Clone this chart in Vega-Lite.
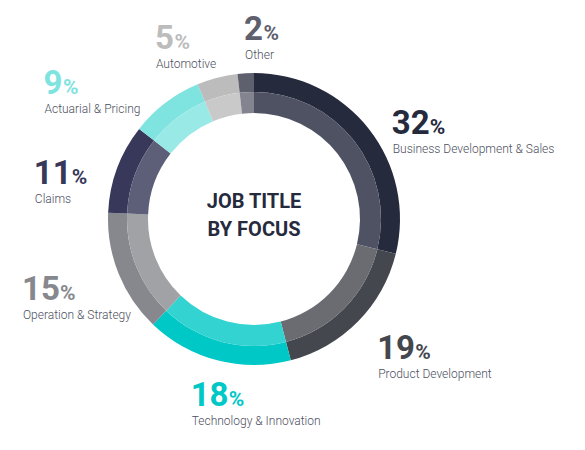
{
  "$schema": "https://vega.github.io/schema/vega-lite/v6.json",
  "width": 508,
  "height": 438,
  "autosize": {"type": "none"},
  "padding": {"left": 0, "top": 0, "right": 77, "bottom": 12},
  "background": "#ffffff",
  "view": {"stroke": null},
  "data": {
    "values": [
      {"name": "Business Development & Sales", "pct": 32},
      {"name": "Product Development", "pct": 19},
      {"name": "Technology & Innovation", "pct": 18},
      {"name": "Operation & Strategy", "pct": 15},
      {"name": "Claims", "pct": 11},
      {"name": "Actuarial & Pricing", "pct": 9},
      {"name": "Automotive", "pct": 5},
      {"name": "Other", "pct": 2}
    ]
  },
  "transform": [
    {"window": [{"op": "row_number", "as": "idx"}, {"op": "sum", "field": "pct", "as": "cum"}], "frame": [null, 0]},
    {"joinaggregate": [{"op": "sum", "field": "pct", "as": "total"}]}
  ],
  "layer": [
    {
      "mark": {"type": "arc", "radius": 146, "radius2": 127},
      "encoding": {
        "theta": {"field": "pct", "type": "quantitative", "stack": true},
        "order": {"field": "idx", "type": "quantitative"},
        "color": {
          "field": "name", "type": "nominal", "legend": null,
          "scale": {
            "domain": ["Business Development & Sales", "Product Development", "Technology & Innovation", "Operation & Strategy", "Claims", "Actuarial & Pricing", "Automotive", "Other"],
            "range": ["#262a3d", "#44474e", "#00c8c6", "#86888d", "#37385a", "#7fe3e0", "#bcbcbc", "#5e606e"]
          }
        }
      }
    },
    {
      "mark": {"type": "arc", "radius": 127, "radius2": 106},
      "encoding": {
        "theta": {"field": "pct", "type": "quantitative", "stack": true},
        "order": {"field": "idx", "type": "quantitative"},
        "fill": {
          "field": "name", "type": "nominal", "legend": null,
          "scale": {
            "domain": ["Business Development & Sales", "Product Development", "Technology & Innovation", "Operation & Strategy", "Claims", "Actuarial & Pricing", "Automotive", "Other"],
            "range": ["#4f5263", "#6a6c71", "#33d3d1", "#a0a2a5", "#5d5e78", "#99e9e7", "#c9c9c9", "#83848f"]
          }
        }
      }
    },
    {
      "mark": {
        "type": "text", "radius": 175, "align": "left", "baseline": "alphabetic",
        "font": "Roboto", "fontWeight": "bold", "fontSize": 33,
        "dx": {"expr": "max(175*sin(2*PI*(datum.cum-datum.pct/2)/datum.total) + ((2*PI*(datum.cum-datum.pct/2)/datum.total) > 3.49 && (2*PI*(datum.cum-datum.pct/2)/datum.total) < 6.11 ? -max(length(''+datum.pct)*18.5+19, length(datum.name)*5.5) : 0), -232) - 175*sin(2*PI*(datum.cum-datum.pct/2)/datum.total) - 25*pow(max(-cos(2*PI*(datum.cum-datum.pct/2)/datum.total), 0), 8)"},
        "dy": {"expr": "14 - 4*cos(2*PI*(datum.cum-datum.pct/2)/datum.total) - 14*pow(max(cos(2*PI*(datum.cum-datum.pct/2)/datum.total), 0), 8) + 50*max(cos(2*PI*(datum.cum-datum.pct/2)/datum.total), 0)*pow(sin(2*PI*(datum.cum-datum.pct/2)/datum.total), 4)"}
      },
      "encoding": {
        "theta": {"field": "pct", "type": "quantitative", "stack": true},
        "order": {"field": "idx", "type": "quantitative"},
        "text": {"field": "pct", "type": "quantitative"},
        "color": {"field": "name", "type": "nominal", "legend": null}
      }
    },
    {
      "mark": {
        "type": "text", "radius": 175, "align": "left", "baseline": "alphabetic",
        "font": "Roboto", "fontWeight": "bold", "fontSize": 21,
        "dx": {"expr": "max(175*sin(2*PI*(datum.cum-datum.pct/2)/datum.total) + ((2*PI*(datum.cum-datum.pct/2)/datum.total) > 3.49 && (2*PI*(datum.cum-datum.pct/2)/datum.total) < 6.11 ? -max(length(''+datum.pct)*18.5+19, length(datum.name)*5.5) : 0), -232) - 175*sin(2*PI*(datum.cum-datum.pct/2)/datum.total) - 25*pow(max(-cos(2*PI*(datum.cum-datum.pct/2)/datum.total), 0), 8) + length(''+datum.pct)*18.5 + 1"},
        "dy": {"expr": "14 - 4*cos(2*PI*(datum.cum-datum.pct/2)/datum.total) - 14*pow(max(cos(2*PI*(datum.cum-datum.pct/2)/datum.total), 0), 8) + 50*max(cos(2*PI*(datum.cum-datum.pct/2)/datum.total), 0)*pow(sin(2*PI*(datum.cum-datum.pct/2)/datum.total), 4)"}
      },
      "encoding": {
        "theta": {"field": "pct", "type": "quantitative", "stack": true},
        "order": {"field": "idx", "type": "quantitative"},
        "text": {"value": "%"},
        "color": {"field": "name", "type": "nominal", "legend": null}
      }
    },
    {
      "mark": {
        "type": "text", "radius": 175, "align": "left", "baseline": "alphabetic",
        "font": "Roboto", "fontWeight": 300, "fontSize": 12, "color": "#4d5060",
        "dx": {"expr": "max(175*sin(2*PI*(datum.cum-datum.pct/2)/datum.total) + ((2*PI*(datum.cum-datum.pct/2)/datum.total) > 3.49 && (2*PI*(datum.cum-datum.pct/2)/datum.total) < 6.11 ? -max(length(''+datum.pct)*18.5+19, length(datum.name)*5.5) : 0), -232) - 175*sin(2*PI*(datum.cum-datum.pct/2)/datum.total) - 25*pow(max(-cos(2*PI*(datum.cum-datum.pct/2)/datum.total), 0), 8) + 1"},
        "dy": {"expr": "33 - 4*cos(2*PI*(datum.cum-datum.pct/2)/datum.total) - 14*pow(max(cos(2*PI*(datum.cum-datum.pct/2)/datum.total), 0), 8) + 50*max(cos(2*PI*(datum.cum-datum.pct/2)/datum.total), 0)*pow(sin(2*PI*(datum.cum-datum.pct/2)/datum.total), 4)"}
      },
      "encoding": {
        "theta": {"field": "pct", "type": "quantitative", "stack": true},
        "order": {"field": "idx", "type": "quantitative"},
        "text": {"field": "name", "type": "nominal"}
      }
    },
    {
      "data": {"values": [{"label": "center"}]},
      "mark": {
        "type": "text", "align": "center", "baseline": "middle",
        "font": "Roboto", "fontWeight": "bold", "fontSize": 20, "lineHeight": 28,
        "color": "#262a3d", "dy": -17,
        "text": ["JOB TITLE", "BY FOCUS"]
      },
      "encoding": {}
    }
  ]
}
